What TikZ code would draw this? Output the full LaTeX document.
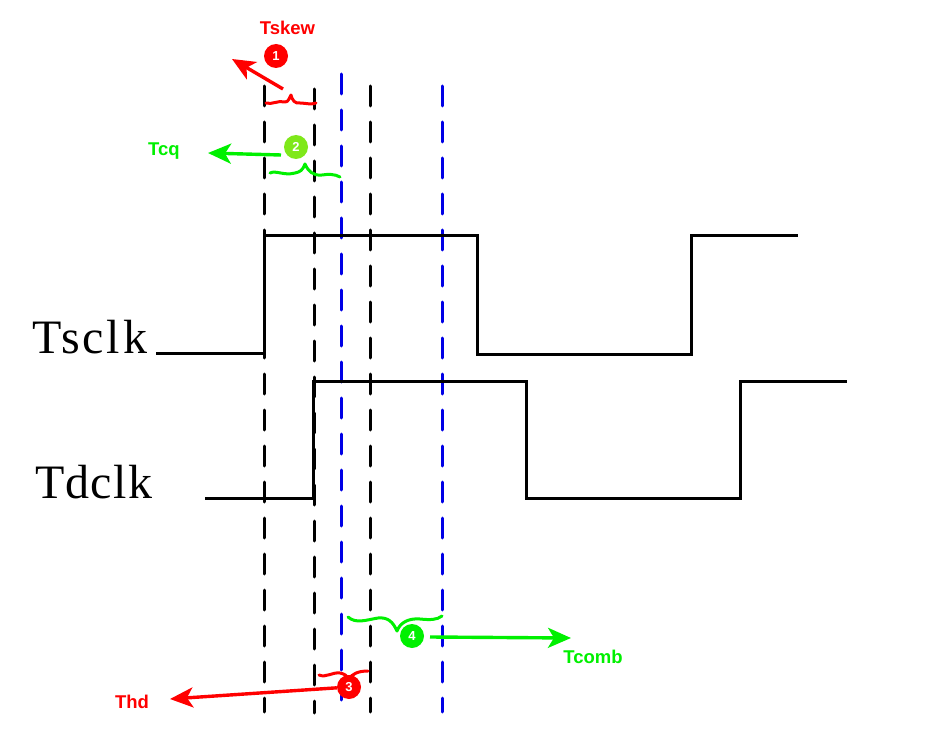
\documentclass[tikz,border=0pt]{standalone}
\usepackage{fontspec}
\setmainfont{Liberation Sans}
\newfontfamily\wavefont[LetterSpace=6]{Liberation Serif}
\newfontfamily\wavefontb[LetterSpace=2.6]{Liberation Serif}
\usetikzlibrary{arrows.meta}
\definecolor{gbright}{HTML}{00F000}
\definecolor{glime}{HTML}{7FE81A}
\definecolor{rbright}{HTML}{FF0000}
\definecolor{bblue}{HTML}{0000E6}
\tikzset{
  x=1pt,y=-1pt,
  guide/.style={line width=3pt,line cap=round,dash pattern=on 20pt off 16pt},
  wave/.style={line width=3pt,line join=miter,black},
  pointer/.style={line width=3.4pt,-{Stealth[length=23pt,width=20pt,inset=6pt]}},
  bracehand/.style={line width=3pt,line cap=round,line join=round},
  badge/.style={circle,minimum size=24pt,inner sep=0pt,text=white,font=\fontsize{13}{13}\selectfont\bfseries},
  tag/.style={font=\fontsize{18.5}{19}\selectfont\bfseries,inner sep=0pt},
  wavelabel/.style={font=\fontsize{48}{50}\selectfont\wavefont,inner sep=0pt,anchor=base west}
}
\begin{document}
\begin{tikzpicture}
\useasboundingbox (0,0) rectangle (932,746);
\fill[white] (0,0) rectangle (932,746);
% guide lines
\coordinate (g1t) at (264.5,86); \coordinate (g1b) at (264.5,712);
\coordinate (g2t) at (314.5,89); \coordinate (g2b) at (314.5,713);
\coordinate (g3t) at (370.5,86); \coordinate (g3b) at (370.5,712);
\coordinate (b1t) at (341.5,74); \coordinate (b1b) at (341.5,700);
\coordinate (b2t) at (442.5,86); \coordinate (b2b) at (442.5,712);
\draw[guide] (g1t) -- (g1b);
\draw[guide] (g2t) -- (g2b);
\draw[guide] (g3t) -- (g3b);
\draw[guide,bblue] (b1t) -- (b1b);
\draw[guide,bblue] (b2t) -- (b2b);
% waveforms
\draw[wave] (156,353.5) -- (264.5,353.5) -- (264.5,235.5) -- (477.5,235.5) -- (477.5,354) -- (691.5,354) -- (691.5,235.5) -- (798,235.5);
\draw[wave] (205,498) -- (313.5,498) -- (313.5,381) -- (526.5,381) -- (526.5,498.5) -- (740.5,498.5) -- (740.5,381.5) -- (847,381.5);
% labels
\node[wavelabel] (ts) at (32,353) {Tsclk};
\node[wavelabel,font=\fontsize{48}{50}\selectfont\wavefontb] (td) at (35,498) {Tdclk};
\node[tag,rbright] (tskew) at (287.5,28) {Tskew};
\node[tag,gbright] (tcq) at (164,151) {Tcq};
\node[tag,rbright] (thd) at (132,702) {Thd};
\node[tag,gbright] (tcomb) at (593,657) {Tcomb};
% braces
\draw[bracehand,rbright] (266,103) .. controls (272,105) and (278,100) .. (285,102) .. controls (288,102) and (289,99) .. (291,95) .. controls (292,100) and (295,104) .. (300,103) .. controls (305,103) and (311,105) .. (316,103);
\draw[bracehand,gbright] (270,173) .. controls (276,170) and (284,176) .. (295,173) .. controls (300,172) and (303,170) .. (305,164) .. controls (308,171) and (313,176) .. (322,175) .. controls (328,174) and (335,174) .. (340,177);
\draw[bracehand,rbright] (319,675) .. controls (326,678) and (332,672) .. (340,673) .. controls (345,674) and (347,676) .. (349,679) .. controls (352,674) and (358,671) .. (368,671);
\draw[bracehand,gbright] (348,617) .. controls (356,624) and (366,620) .. (378,618) .. controls (388,617) and (393,622) .. (397,631) .. controls (400,623) and (408,618) .. (420,619) .. controls (430,620) and (437,620) .. (442,616);
% badges
\node[badge,fill=rbright] (n1) at (276,56) {1};
\node[badge,fill=glime] (n2) at (296,147) {2};
\node[badge,fill=rbright] (n3) at (349,687) {3};
\node[badge,fill=gbright] (n4) at (412,636) {4};
% pointers
\coordinate (a1s) at (283,89); \coordinate (a1e) at (232,59);
\coordinate (a2s) at (281,155); \coordinate (a2e) at (208,153);
\coordinate (a3e) at (170,699);
\coordinate (a4s) at (430,637); \coordinate (a4e) at (571,638);
\draw[pointer,rbright] (a1s) -- (a1e);
\draw[pointer,gbright] (a2s) -- (a2e);
\draw[pointer,rbright] (n3) -- (a3e);
\draw[pointer,gbright] (a4s) -- (a4e);
\end{tikzpicture}
\end{document}
